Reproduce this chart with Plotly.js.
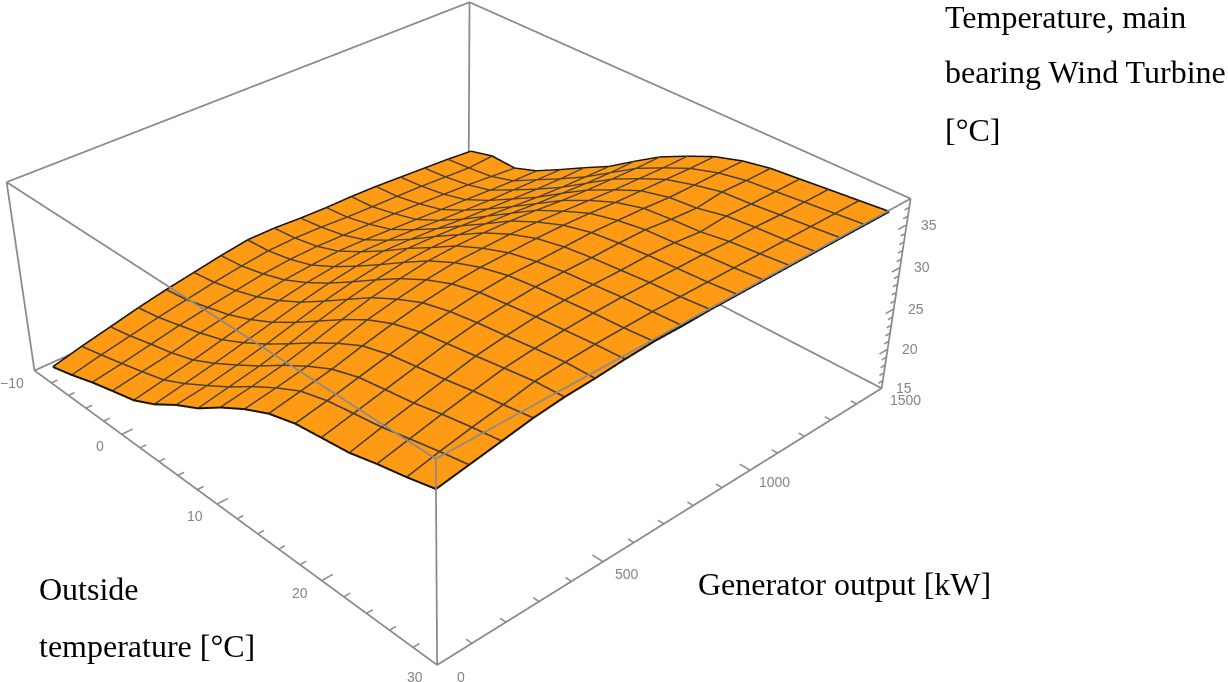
<!DOCTYPE html>
<html>
<head>
<meta charset="utf-8">
<script src="https://cdn.plot.ly/plotly-3.0.1.min.js"></script>
<style>
html,body{margin:0;padding:0;background:#fff;width:1228px;height:682px;overflow:hidden}
#frame{position:absolute;left:0;top:0;width:1228px;height:682px;overflow:hidden}
#chart{position:absolute;left:-327px;top:-369px}
#chart canvas{filter:blur(0.45px)}
</style>
</head>
<body>
<div id="frame"><div id="chart"></div></div>
<script>
var outsideTemp = [-7.5,-5.2,-2.8,-0.5,1.9,4.2,6.6,8.9,11.2,13.6,15.9,18.3,20.6,23,25.3,27.7,30];
var generatorOutput = [0,89,178,266,355,444,533,621,710,799,888,976,1065,1154,1243,1331,1420];
var bearingTemp = [
 [17.4,18.2,19.2,20.0,20.8,22.2,24.1,25.6,27.6,29.4,30.8,31.7,32.1,32.5,33.3,34.0,34.8],
 [18.3,19.0,19.8,20.6,21.5,22.9,24.6,26.3,28.2,30.0,31.5,32.4,32.9,33.4,34.1,34.8,35.4],
 [19.1,19.7,20.5,21.2,22.2,23.6,25.3,27.0,28.9,30.7,32.2,33.2,33.7,34.2,34.9,35.5,36.0],
 [19.9,20.4,21.2,22.0,23.0,24.4,26.1,27.9,29.8,31.6,33.1,34.0,34.5,35.0,35.6,36.1,36.6],
 [20.6,21.0,21.8,22.6,23.8,25.2,27.0,28.9,30.8,32.6,33.9,34.8,35.3,35.8,36.3,36.8,37.0],
 [21.2,21.6,22.3,23.2,24.5,26.0,27.9,29.8,31.7,33.3,34.6,35.4,35.9,36.3,36.7,37.1,37.2],
 [21.8,22.1,22.8,23.7,25.1,26.7,28.6,30.5,32.3,33.9,35.1,35.9,36.3,36.7,37.0,37.3,37.5],
 [22.3,22.5,23.1,24.0,25.5,27.2,29.1,31.0,32.8,34.3,35.4,36.2,36.6,36.9,37.2,37.4,37.7],
 [22.3,22.6,23.2,24.2,25.8,27.5,29.5,31.2,33.0,34.4,35.5,36.2,36.7,37.0,37.3,37.5,37.7],
 [22.1,22.5,23.1,24.1,25.7,27.4,29.4,31.2,33.0,34.5,35.6,36.3,36.7,37.0,37.3,37.5,37.8],
 [22.0,22.3,23.0,23.9,25.5,27.2,29.2,31.0,32.9,34.4,35.6,36.4,36.8,37.1,37.3,37.5,37.8],
 [22.0,22.2,22.9,23.7,25.2,26.9,28.9,30.8,32.7,34.2,35.5,36.3,36.8,37.0,37.3,37.5,37.8],
 [21.9,22.1,22.7,23.5,25.0,26.7,28.6,30.5,32.4,34.0,35.3,36.2,36.5,36.7,37.2,37.5,37.8],
 [21.7,22.0,22.5,23.3,24.8,26.5,28.3,30.3,32.2,33.8,35.2,36.0,36.3,37.0,37.3,37.5,37.8],
 [21.5,21.8,22.3,23.1,24.7,26.3,28.1,30.1,32.1,33.7,35.1,36.0,36.7,36.9,37.2,37.5,37.8],
 [21.3,21.6,22.0,22.9,24.6,26.2,28.0,30.0,32.0,33.6,35.0,36.0,36.6,36.9,37.2,37.5,37.8],
 [21.0,21.8,21.7,22.8,24.5,26.2,27.9,30.0,32.0,33.6,35.0,36.0,36.6,36.9,37.2,37.5,37.8]
];
var tempRange = [-10,30], genRange = [0,1500], zRange = [15,38];
var tempTicks = [-10,-8,-6,-4,-2,0,2,4,6,8,10,12,14,16,18,20,22,24,26,28,30];
var tempMajor = [-10,0,10,20,30];
var tempLabels = ['\u221210','0','10','20','30'];
var genTicks = [0,100,200,300,400,500,600,700,800,900,1000,1100,1200,1300,1400,1500];
var genMajor = [0,500,1000,1500];
var genLabels = ['0','500','1000','1500'];
var zTicks = [15,16,17,18,19,20,21,22,23,24,25,26,27,28,29,30,31,32,33,34,35,36,37,38];
var zMajor = [15,20,25,30,35];
var zLabels = ['15','20','25','30','35'];

var W = 1560, H = 1698, LEFT = -327, TOP = -369;
// The scene clips lines lying exactly on its bounds, so each axis gets a small margin
// and the aspect ratio grows by the same factor, leaving the drawn box unchanged.
var CLIP_MARGIN = 0.005, ASPECT_GROW = 1 + 2*CLIP_MARGIN;
function padded(r){ var d=(r[1]-r[0])*CLIP_MARGIN; return [r[0]-d, r[1]+d]; }
function note(text, x, y, size){
  return {text:text, xref:'paper', yref:'paper', x:(x-LEFT)/W, y:1-(y-TOP)/H,
    xanchor:'left', yanchor:'middle', showarrow:false,
    font:{family:'"Liberation Serif", serif', size:size, color:'#000'}};
}
function hiddenAxis(range){
  return {range:padded(range), title:{text:''}, showgrid:false, zeroline:false, showbackground:false,
    showline:false, ticks:'', showticklabels:false, showspikes:false};
}
function seg(path, a, b){
  path.x.push(a[0],b[0],null); path.y.push(a[1],b[1],null); path.z.push(a[2],b[2],null);
}
function lineTrace(path, color, width){
  return {type:'scatter3d', mode:'lines', x:path.x, y:path.y, z:path.z,
    line:{color:color, width:width}, hoverinfo:'skip', showlegend:false,
    connectgaps:false};
}
var T0=tempRange[0],T1=tempRange[1],G0=genRange[0],G1=genRange[1],Z0=zRange[0],Z1=zRange[1];
var box = {x:[],y:[],z:[]};
[Z0,Z1].forEach(function(z){
  seg(box,[T0,G0,z],[T1,G0,z]); seg(box,[T0,G1,z],[T1,G1,z]);
  seg(box,[T0,G0,z],[T0,G1,z]); seg(box,[T1,G0,z],[T1,G1,z]);
});
[[T0,G0],[T1,G0],[T0,G1],[T1,G1]].forEach(function(c){ seg(box,[c[0],c[1],Z0],[c[0],c[1],Z1]); });
var marks = {x:[],y:[],z:[]};
var longTick = 32, shortTick = 18;
tempTicks.forEach(function(t){
  seg(marks,[t,G0,Z0],[t,G0+(tempMajor.indexOf(t)>=0?longTick:shortTick),Z0]);
});
var perKw = (T1-T0)/(G1-G0);
genTicks.forEach(function(g){
  seg(marks,[T1,g,Z0],[T1-(genMajor.indexOf(g)>=0?longTick:shortTick)*perKw,g,Z0]);
});
zTicks.forEach(function(z){
  seg(marks,[T1,G1,z],[T1,G1-(zMajor.indexOf(z)>=0?longTick:shortTick),z]);
});
var meshLift = 0.05;
var mesh = {x:[],y:[],z:[]}, rim = {x:[],y:[],z:[]};
function addLine(path, xs, ys, zs){
  for(var k=0;k<xs.length;k++){ path.x.push(xs[k]); path.y.push(ys[k]); path.z.push(zs[k]+meshLift); }
  path.x.push(null); path.y.push(null); path.z.push(null);
}
generatorOutput.forEach(function(g,j){
  var path = (j===0||j===generatorOutput.length-1)?rim:mesh;
  addLine(path, outsideTemp, outsideTemp.map(function(){return g;}), bearingTemp[j]);
});
outsideTemp.forEach(function(t,i){
  var path = (i===0||i===outsideTemp.length-1)?rim:mesh;
  addLine(path, generatorOutput.map(function(){return t;}), generatorOutput, bearingTemp.map(function(r){return r[i];}));
});
var surface = {
  type:'surface', x:outsideTemp, y:generatorOutput, z:bearingTemp,
  colorscale:[[0,'#FF9A14'],[1,'#FF9A14']], showscale:false, hoverinfo:'skip',
  lighting:{ambient:1,diffuse:0,specular:0,fresnel:0,roughness:1},
  contours:{x:{show:false,highlight:false},y:{show:false,highlight:false},z:{show:false,highlight:false}}
};
var tickFont = {family:'"Liberation Sans", Arial, sans-serif', size:14, color:'#858585'};
function tickNote(text,x,y,z,dx,dy){
  return {x:x,y:y,z:z,text:text,showarrow:false,xshift:dx,yshift:dy,xanchor:'center',yanchor:'middle',font:tickFont};
}
var sceneNotes = [];
tempMajor.forEach(function(t,i){ sceneNotes.push(tickNote(tempLabels[i],t,G0,Z0,-22,-12)); });
genMajor.forEach(function(g,i){ sceneNotes.push(tickNote(genLabels[i],T1,g,Z0,24,-12)); });
zMajor.forEach(function(z,i){ sceneNotes.push(tickNote(zLabels[i],T1,G1,z,22,0)); });

var layout = {
  width:W, height:H, autosize:false, margin:{l:0,r:0,t:0,b:0,pad:0},
  paper_bgcolor:'#fff', showlegend:false,
  scene:{
    domain:{x:[0,1],y:[0,1]},
    aspectmode:'manual', aspectratio:{x:ASPECT_GROW,y:ASPECT_GROW,z:0.357*ASPECT_GROW},
    camera:{eye:{x:2.072,y:-1.929,z:1.747},center:{x:0.134,y:-0.130,z:-0.248},up:{x:0,y:0,z:1},projection:{type:'perspective'}},
    xaxis:hiddenAxis(tempRange),
    yaxis:hiddenAxis(genRange),
    zaxis:hiddenAxis(zRange),
    annotations:sceneNotes
  },
  annotations:[
    note('Temperature, main',943,17,32),
    note('bearing Wind Turbine',943,72,32),
    note('[°C]',943,130,32),
    note('Generator output [kW]',696,584,32),
    note('Outside',37,589,32),
    note('temperature [°C]',37,646,32)
  ]
};
Plotly.newPlot('chart',[surface,lineTrace(mesh,'#4a4030',3.5),lineTrace(rim,'#1a1408',4),lineTrace(box,'#8a8a8a',3.5),lineTrace(marks,'#8a8a8a',3)],layout,{displayModeBar:false});
</script>
</body>
</html>
